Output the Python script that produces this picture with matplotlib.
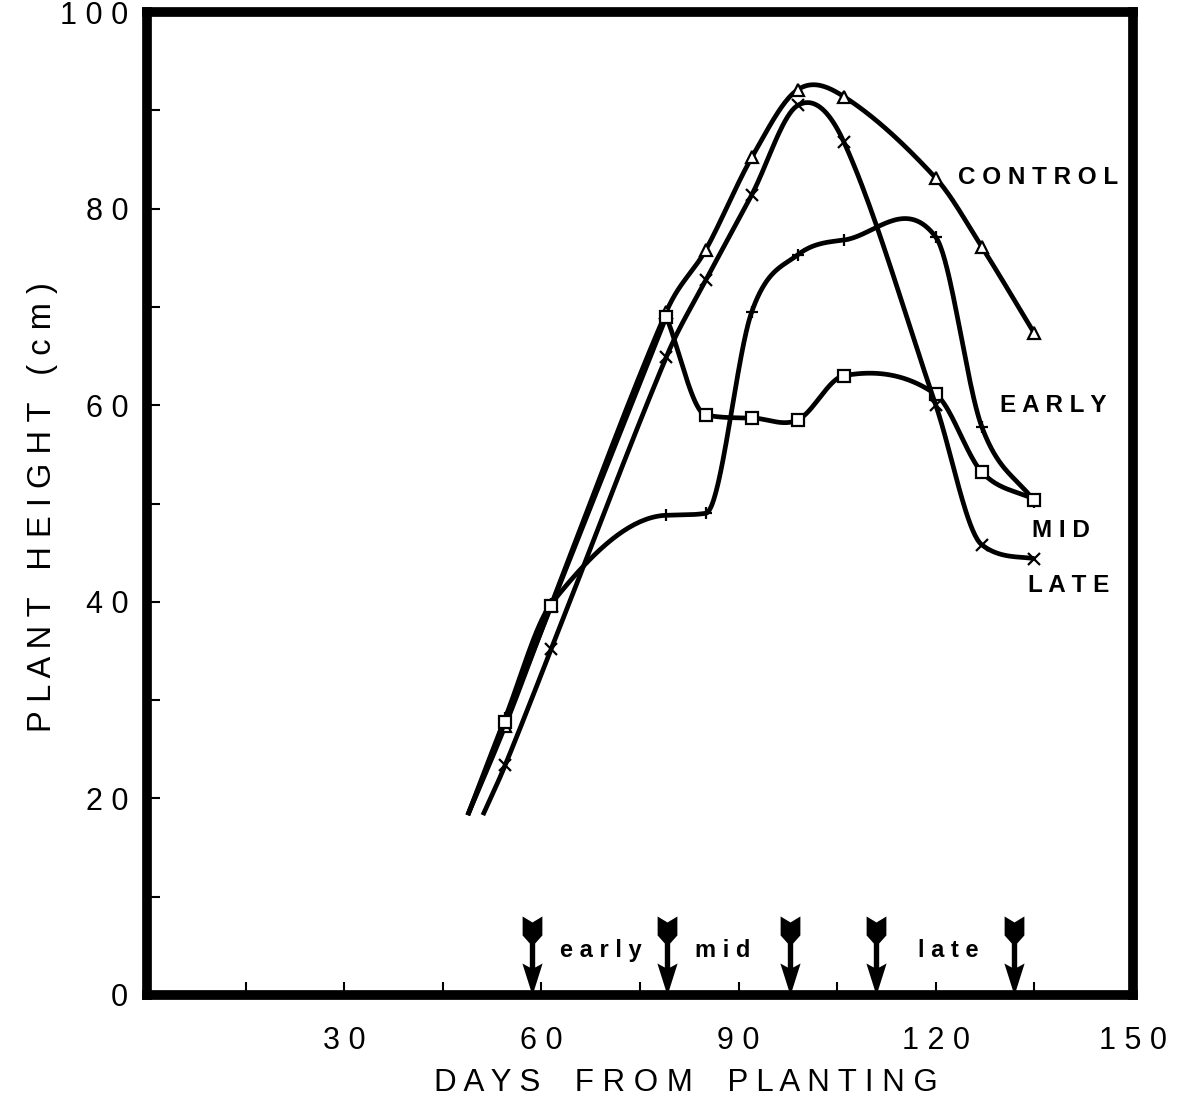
import numpy as np
import matplotlib
matplotlib.use("Agg")
import matplotlib.pyplot as plt
from matplotlib.path import Path

plt.rcParams["font.family"] = ["Liberation Sans", "DejaVu Sans"]

# sampling days and plant heights (cm) for each treatment
days = [54.5, 61.5, 79, 85, 92, 99, 106, 120, 127, 135]
control = [27.4, 39.7, 69.5, 75.8, 85.2, 92.1, 91.4, 83.1, 76.1, 67.3]
early = [28.2, 39.8, 48.8, 49.0, 69.5, 75.3, 76.8, 77.1, 57.8, 50.2]
mid = [27.8, 39.6, 69.0, 59.0, 58.7, 58.5, 63.0, 61.1, 53.2, 50.4]
late = [23.4, 35.2, 64.9, 72.7, 81.4, 90.5, 86.8, 60.0, 45.8, 44.4]

# the drawn curves begin a little before the first sample
start_days = [48.8, 48.8, 48.8, 51.1]
start_heights = [18.3, 18.3, 18.3, 18.3]

series_names = ["CONTROL", "EARLY", "MID", "LATE"]
series_markers = ["^", "+", "s", "x"]

# defoliation dates (arrows) and the stage names between them
arrow_days = [58.6, 79.1, 97.8, 110.9, 131.9]
stage_names = ["early", "mid", "late"]
stage_days = [69.1, 87.6, 121.9]

y_ticks = list(range(0, 101, 10))
y_tick_labels = ["0", "", "20", "", "40", "", "60", "", "80", "", "100"]
x_ticks = list(range(0, 151, 15))
x_tick_labels = ["", "", "30", "", "60", "", "90", "", "120", "", "150"]


def spaced(text, gap=" "):
    return gap.join(text)


def slopes(x, y):
    # catmull-rom slopes; a steep peak keeps a corner, and runs where both
    # ends agree with the chord are damped so they don't wobble
    d = np.diff(y) / np.diff(x)
    m = np.empty_like(y)
    m[0], m[-1] = d[0], d[-1]
    m[1:-1] = (y[2:] - y[:-2]) / (x[2:] - x[:-2])
    left, right = m.copy(), m.copy()
    for i in range(1, len(y) - 1):
        a, b = d[i - 1], d[i]
        if a * b < 0 and min(abs(a), abs(b)) > 1:
            left[i], right[i] = a, b
    for k in range(len(d)):
        if d[k] == 0:
            continue
        a, b = right[k] / d[k], left[k + 1] / d[k]
        if a >= 0 and b >= 0 and a * a + b * b > 9:
            tau = 3 / np.hypot(a, b)
            right[k] = tau * a * d[k]
            left[k + 1] = tau * b * d[k]
            if left[k] == m[k]:
                left[k] = right[k]
            if right[k + 1] == m[k + 1]:
                right[k + 1] = left[k + 1]
    return left, right


def smooth_curve(x, y, n=40):
    x = np.asarray(x, float)
    y = np.asarray(y, float)
    left, right = slopes(x, y)
    t = np.linspace(0, 1, n, endpoint=False)
    h00 = 2 * t**3 - 3 * t**2 + 1
    h10 = t**3 - 2 * t**2 + t
    h01 = -2 * t**3 + 3 * t**2
    h11 = t**3 - t**2
    xs, ys = [], []
    for i in range(len(x) - 1):
        h = x[i + 1] - x[i]
        xs.append(x[i] + t * h)
        ys.append(h00 * y[i] + h10 * h * right[i] + h01 * y[i + 1]
                  + h11 * h * left[i + 1])
    xs.append([x[-1]])
    ys.append([y[-1]])
    return np.concatenate(xs), np.concatenate(ys)


# down-pointing arrow with a notched tail, tip at the origin
arrow_verts = [
    (0, 0), (0.128, 0.405), (0.034, 0.354), (0.034, 0.658), (0.125, 0.76),
    (0.125, 1.0), (0, 0.924), (-0.125, 1.0), (-0.125, 0.76), (-0.034, 0.658),
    (-0.034, 0.354), (-0.128, 0.405), (0, 0),
]
arrow_codes = [Path.MOVETO] + [Path.LINETO] * (len(arrow_verts) - 2) + [Path.CLOSEPOLY]
arrow_marker = Path(arrow_verts, arrow_codes)

fig = plt.figure(figsize=(11.83, 11.07), dpi=100)
ax = fig.add_axes([147 / 1183, 112 / 1107, 986 / 1183, 983 / 1107])

all_series = [control, early, mid, late]
for name, values, marker, d0, h0 in zip(series_names, all_series, series_markers,
                                        start_days, start_heights):
    xs, ys = smooth_curve([d0] + days, [h0] + values)
    ax.plot(xs, ys, color="black", lw=3.4, solid_capstyle="butt",
            solid_joinstyle="round")
    ax.plot(days, values, linestyle="none", marker=marker, ms=8.5,
            mfc="white" if marker in ("^", "s") else "black", mec="black", mew=1.6)

ax.plot(arrow_days, [0] * len(arrow_days), linestyle="none", marker=arrow_marker,
        ms=113.8, mfc="black", mec="black", mew=0, clip_on=False)

label_style = dict(fontsize=17.5, fontweight="bold", va="baseline", ha="left")
ax.text(123.4, 82.5, spaced("CONTROL"), **label_style)
ax.text(129.8, 59.3, spaced("EARLY"), **label_style)
ax.text(134.6, 46.6, spaced("MID"), **label_style)
ax.text(134.0, 41.0, spaced("LATE"), **label_style)

for name, d in zip(stage_names, stage_days):
    ax.text(d, 3.9, spaced(name), fontsize=17, fontweight="bold",
            ha="center", va="baseline")

ax.set_xlim(0, 150)
ax.set_ylim(0, 100)
ax.set_xticks(x_ticks)
ax.set_xticklabels([spaced(s) for s in x_tick_labels], fontsize=22)
ax.set_yticks(y_ticks)
ax.set_yticklabels([spaced(s) for s in y_tick_labels], fontsize=22)
ax.tick_params(axis="both", direction="in", length=9.5, width=1.5)
ax.tick_params(axis="x", pad=22)
ax.tick_params(axis="y", pad=13.5)

for spine in ax.spines.values():
    spine.set_linewidth(7)

ax.set_xlabel(spaced("DAYS") + "    " + spaced("FROM") + "    " + spaced("PLANTING"),
              fontsize=22.5)
ax.xaxis.set_label_coords(0.547, -0.074)
ax.set_ylabel(spaced("PLANT") + "   " + spaced("HEIGHT") + "   " + spaced("(cm)"),
              fontsize=23.5)
ax.yaxis.set_label_coords(-0.09, 0.496)

fig.savefig("out.png", dpi=100)
